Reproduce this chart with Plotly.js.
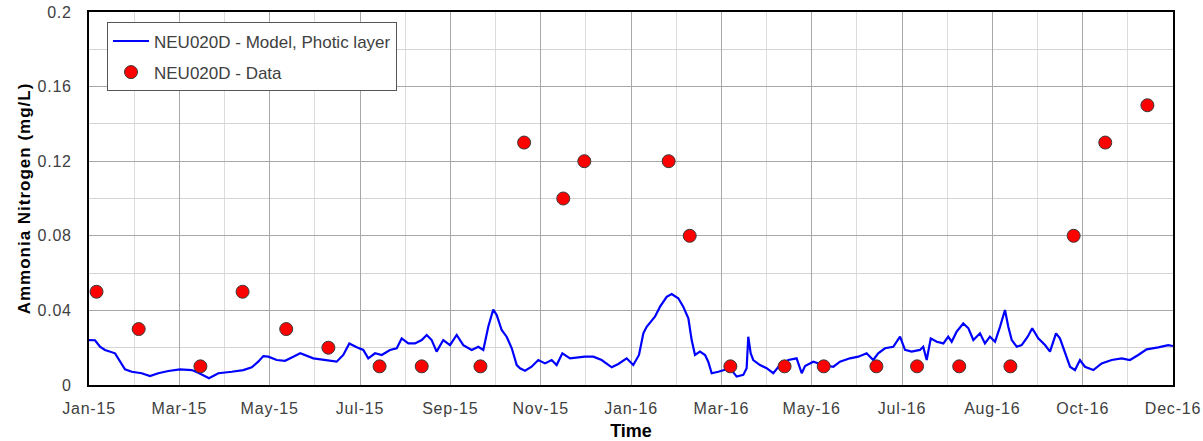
<!DOCTYPE html>
<html>
<head>
<meta charset="utf-8">
<script src="https://cdn.plot.ly/plotly-3.0.1.min.js"></script>
<style>
html,body{margin:0;padding:0;background:#fff;}
#chart{width:1203px;height:441px;}
#chart .xtick text, #chart .ytick text{letter-spacing:0.8px;}
#chart .ytitle{letter-spacing:1px;}
</style>
</head>
<body>
<div id="chart"></div>
<script>
// ---- Data ----
// Model series: days since 2015-01-01 and ammonia nitrogen (mg/L)
const modelDay = [7.0,11.0,14.3,17.6,24.3,27.6,30.9,35.4,42.0,47.5,53.0,59.7,67.4,75.2,79.6,86.7,92.9,101.8,109.5,115.1,119.4,122.8,126.1,131.7,137.2,142.7,147.3,
  156.0,164.9,171.5,175.9,179.9,184.8,189.2,192.5,197.0,201.4,206.9,211.4,214.7,219.1,223.5,228.0,231.3,234.6,237.9,242.3,246.8,251.2,255.6,261.2,265.6,268.9,272.2,275.5,277.8,281.1,284.4,287.8,291.1,293.3,
  296.6,301.0,305.4,309.9,314.3,317.6,321.4,326.5,332.0,336.4,342.0,347.5,354.2,358.6,364.1,368.5,372.3,375.2,377.4,382.9,386.3,390.7,394.0,398.4,401.7,405.1,407.3,409.5,412.8,416.2,418.3,420.6,425.0,429.4,
  432.8,437.2,441.6,443.8,444.9,446.5,448.2,452.7,457.1,461.5,465.9,471.5,477.0,480.4,482.6,488.1,494.7,501.4,505.8,512.4,518.0,523.5,527.9,531.2,535.7,541.2,545.7,549.0,553.4,558.9,561.1,563.4,566.1,570.1,574.5,
  577.7,580.0,583.3,587.7,591.1,594.4,598.8,602.1,605.4,608.8,612.1,615.4,617.6,619.9,623.2,626.5,630.5,633.5,637.5,642.0,645.3,649.3,651.9,655.3,658.6,661.9,665.2,668.5,674.1,679.6,686.3,692.9,698.4,703.9,709.5,717.2,723.8,727.0];
const modelValue = [0.0241,0.0240,0.0205,0.0188,0.0170,0.0125,0.0084,0.0071,0.0063,0.0048,0.0063,0.0075,0.0084,0.0080,0.0066,0.0036,0.0063,0.0071,0.0080,0.0095,0.0125,0.0155,0.0152,0.0134,0.0130,0.0152,0.0170,
  0.0143,0.0134,0.0125,0.0161,0.0223,0.0202,0.0188,0.0143,0.0170,0.0161,0.0188,0.0197,0.0250,0.0223,0.0223,0.0241,0.0268,0.0241,0.0179,0.0241,0.0214,0.0268,0.0214,0.0188,0.0205,0.0188,0.0312,0.0405,0.0375,0.0295,0.0259,0.0197,0.0107,0.0090,
  0.0077,0.0098,0.0134,0.0116,0.0134,0.0107,0.0170,0.0143,0.0148,0.0152,0.0152,0.0134,0.0095,0.0113,0.0143,0.0107,0.0161,0.0277,0.0312,0.0366,0.0420,0.0473,0.0488,0.0465,0.0420,0.0357,0.0241,0.0161,0.0179,0.0161,0.0125,0.0063,0.0071,0.0080,
  0.0090,0.0045,0.0054,0.0090,0.0259,0.0170,0.0134,0.0107,0.0090,0.0063,0.0107,0.0134,0.0143,0.0063,0.0102,0.0125,0.0107,0.0098,0.0125,0.0143,0.0152,0.0170,0.0134,0.0170,0.0197,0.0205,0.0259,0.0188,0.0179,0.0188,0.0205,0.0134,0.0250,0.0232,0.0223,
  0.0259,0.0232,0.0286,0.0330,0.0304,0.0241,0.0277,0.0223,0.0259,0.0232,0.0312,0.0402,0.0312,0.0241,0.0205,0.0214,0.0259,0.0304,0.0250,0.0214,0.0179,0.0277,0.0250,0.0170,0.0098,0.0080,0.0134,0.0098,0.0080,0.0116,0.0134,0.0143,0.0134,0.0161,0.0191,0.0202,0.0214,0.0209];

// Observed data
const dataDates = ['2015-01-13','2015-02-10','2015-03-23','2015-04-20','2015-05-19','2015-06-16','2015-07-20','2015-08-17','2015-09-25','2015-10-24','2015-11-19','2015-12-03',
  '2016-01-28','2016-02-11','2016-03-09','2016-04-14','2016-05-10','2016-06-14','2016-07-11','2016-08-08','2016-09-11','2016-10-23','2016-11-13','2016-12-11'];
const dataValues = [0.05,0.03,0.01,0.05,0.03,0.02,0.01,0.01,0.01,0.13,0.10,0.12,
  0.12,0.08,0.01,0.01,0.01,0.01,0.01,0.01,0.01,0.08,0.13,0.15];

// Axis ticks
const xTickDates = ['2015-01-08','2015-03-09','2015-05-08','2015-07-07','2015-09-05','2015-11-04','2016-01-03','2016-03-03','2016-05-02','2016-07-01','2016-08-30','2016-10-29','2016-12-28'];
const xTickLabels = ['Jan-15','Mar-15','May-15','Jul-15','Sep-15','Nov-15','Jan-16','Mar-16','May-16','Jul-16','Aug-16','Oct-16','Dec-16'];
const yTickValues = [0,0.04,0.08,0.12,0.16,0.2];
const yTickLabels = ['0','0.04','0.08','0.12','0.16','0.2'];

const seriesNames = ['NEU020D - Model, Photic layer','NEU020D - Data'];

// ---- Build ----
const DAY = 86400000;
const base = Date.UTC(2015,0,1);
const modelDates = modelDay.map(d => new Date(base + d*DAY).toISOString().replace('T',' ').replace('Z',''));

const font = 'Liberation Sans, Arial, sans-serif';
const traces = [
  {x: modelDates, y: modelValue, type:'scatter', mode:'lines', name: seriesNames[0], legendgroup:'a',
   line:{color:'#0000FF', width:2.2}},
  {x: dataDates, y: dataValues, type:'scatter', mode:'markers', name: seriesNames[1], legendgroup:'b',
   marker:{color:'#FF0000', size:13, line:{color:'#3a3a3a', width:1}}}
];

const layout = {
  width:1203, height:441,
  margin:{l:89, r:30, t:12, b:56},
  paper_bgcolor:'#fff', plot_bgcolor:'#fff',
  font:{family:font, color:'#404040', size:16},
  showlegend:true,
  legend:{x:0.0166, y:0.972, xanchor:'left', yanchor:'top', bgcolor:'#fff', bordercolor:'#555', borderwidth:1,
    font:{family:font, size:17, color:'#404040'}, itemwidth:36, tracegroupgap:6, traceorder:'grouped'},
  xaxis:{type:'date', range:['2015-01-08','2016-12-28'], tickmode:'array', tickvals:xTickDates, ticktext:xTickLabels,
    showgrid:true, gridcolor:'#a8a8a8', gridwidth:1, showline:true, linecolor:'#000', linewidth:2, mirror:true,
    ticks:'', ticklabelstandoff:8, zeroline:false,
    minor:{tickmode:'linear', tick0:'2015-01-08', dtick:30*DAY, showgrid:true, gridcolor:'#dcdcdc', gridwidth:1},
    title:{text:'Time', font:{family:font, size:18, color:'#000', weight:'bold'}, standoff:10}},
  yaxis:{range:[0,0.2], tickmode:'array', tickvals:yTickValues, ticktext:yTickLabels,
    showgrid:true, gridcolor:'#a8a8a8', gridwidth:1, showline:true, linecolor:'#000', linewidth:2, mirror:true,
    ticks:'', ticklabelstandoff:12, zeroline:false,
    minor:{tickmode:'linear', tick0:0, dtick:0.02, showgrid:true, gridcolor:'#d4d4d4', gridwidth:1},
    title:{text:'Ammonia Nitrogen (mg/L)', font:{family:font, size:17, color:'#000', weight:'bold'}, standoff:6}}
};

Plotly.newPlot('chart', traces, layout, {displayModeBar:false, staticPlot:true});
</script>
</body>
</html>
